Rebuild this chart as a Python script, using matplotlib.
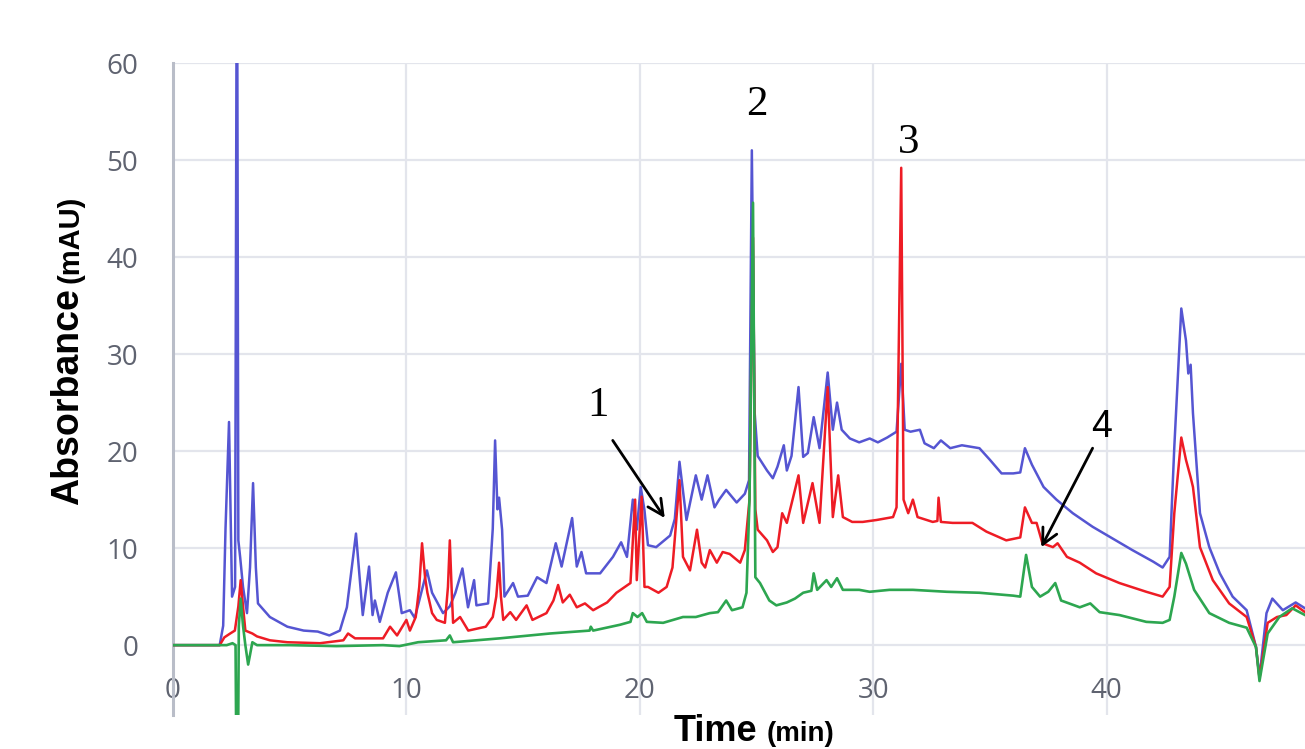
import matplotlib
matplotlib.use("Agg")
import matplotlib.pyplot as plt

# retention time (min) / absorbance (mAU)
blue_t = [0, 1.0, 2.0, 2.15, 2.25, 2.4, 2.53, 2.66, 2.74, 2.8, 2.88, 3.0, 3.17, 3.3, 3.43, 3.55, 3.64,
          4.15, 4.9, 5.6, 6.2, 6.7, 7.15, 7.45, 7.84, 8.13, 8.4, 8.55, 8.65, 8.86, 9.2, 9.55, 9.8,
          10.15, 10.36, 10.88, 11.1, 11.57, 11.86, 12.1, 12.4, 12.64, 12.9, 13.0, 13.5, 13.7, 13.8,
          13.9, 13.97, 14.1, 14.2, 14.57, 14.78, 15.2, 15.6, 16.0, 16.4, 16.65, 17.1, 17.3, 17.5,
          17.7, 18.3, 18.85, 19.2, 19.45, 19.7, 19.87, 20.04, 20.2, 20.35, 20.7, 21.3, 21.5, 21.7,
          22.0, 22.4, 22.65, 22.9, 23.2, 23.4, 23.7, 24.15, 24.5, 24.68, 24.8, 24.92, 25.05, 25.45,
          25.7, 25.9, 26.17, 26.3, 26.5, 26.8, 27.0, 27.2, 27.45, 27.7, 28.05, 28.27, 28.45, 28.65,
          29.0, 29.4, 29.85, 30.2, 30.6, 31.0, 31.2, 31.35, 31.6, 32.0, 32.2, 32.6, 32.9, 33.3, 33.8,
          34.55, 35.0, 35.5, 36.0, 36.3, 36.5, 36.8, 37.3, 37.85, 38.55, 39.4, 40.25, 41.1, 42.0,
          42.4, 42.7, 42.9, 43.2, 43.4, 43.5, 43.6, 43.7, 44.0, 44.4, 44.85, 45.4, 46.0, 46.4, 46.55,
          46.85, 47.1, 47.55, 48.1, 48.5]
blue_v = [0, 0, 0, 2, 12, 23, 5, 6, 80, 10.8, 9, 6, 3.3, 8, 16.7, 8, 4.3,
          2.9, 1.9, 1.5, 1.4, 1.0, 1.5, 3.9, 11.5, 3.1, 8.1, 3.1, 4.6, 2.4, 5.4, 7.5, 3.3,
          3.6, 2.8, 7.7, 5.4, 3.3, 4.0, 5.4, 7.9, 3.9, 6.7, 4.1, 4.3, 12, 21.1,
          14, 15.2, 11.9, 5, 6.4, 5, 5.1, 7, 6.4, 10.5, 8.1, 13.1, 8.1, 9.6,
          7.4, 7.4, 9.1, 10.6, 9.1, 15, 11.9, 16.3, 13.9, 10.3, 10.1, 11.3, 13, 18.9,
          12.9, 17.5, 15, 17.5, 14.2, 15, 16, 14.7, 15.6, 17, 51, 24, 19.5, 18,
          17.2, 18.4, 20.6, 18, 19.5, 26.6, 19.4, 19.8, 23.5, 20.3, 28.1, 22.2, 25, 22.2,
          21.3, 20.9, 21.3, 20.9, 21.4, 22, 29, 22.2, 22, 22.2, 20.8, 20.3, 21.1, 20.3, 20.6,
          20.3, 19.1, 17.7, 17.7, 17.8, 20.3, 18.6, 16.3, 15, 13.6, 12.2, 11, 9.8, 8.6,
          8, 9.1, 20.4, 34.7, 31.4, 28, 28.9, 23.9, 13.6, 10.1, 7.4, 5, 3.6, -0.2, -3.3,
          3.3, 4.8, 3.6, 4.4, 3.8]

red_t = [0, 1.0, 2.0, 2.2, 2.45, 2.65, 2.8, 2.9, 3.0, 3.1, 3.4, 3.6, 4.15, 4.9, 6.3, 7.3, 7.5, 7.8,
         9.0, 9.3, 9.6, 10.0, 10.15, 10.4, 10.55, 10.67, 10.8, 10.9, 11.1, 11.3, 11.65, 11.78, 11.86,
         11.95, 12.0, 12.3, 12.65, 13.4, 13.7, 13.85, 13.97, 14.05, 14.15, 14.45, 14.7, 15.15, 15.4,
         16.0, 16.3, 16.5, 16.7, 17.0, 17.3, 17.65, 18.0, 18.6, 19.0, 19.6, 19.8, 19.87, 20.08, 20.2,
         20.35, 20.8, 21.15, 21.4, 21.7, 21.85, 22.15, 22.45, 22.65, 22.8, 23.0, 23.3, 23.55, 23.85,
         24.3, 24.5, 24.7, 24.85, 24.95, 25.05, 25.45, 25.7, 25.9, 26.1, 26.3, 26.8, 27.0, 27.4, 27.7,
         28.05, 28.27, 28.5, 28.7, 29.1, 29.55, 30.15, 30.85, 31.0, 31.2, 31.3, 31.5, 31.7, 31.9,
         32.55, 32.75, 32.8, 32.9, 33.4, 34.25, 34.85, 35.7, 36.3, 36.5, 36.8, 37.0, 37.25, 37.7,
         37.9, 38.3, 38.85, 39.55, 40.55, 41.7, 42.4, 42.7, 42.9, 43.2, 43.4, 43.6, 43.7, 44.0, 44.55,
         45.25, 46.0, 46.4, 46.55, 46.9, 47.3, 47.7, 48.1, 48.5]
red_v = [0, 0, 0, 0.8, 1.2, 1.5, 4, 6.7, 4, 1.5, 1.2, 0.9, 0.5, 0.3, 0.2, 0.5, 1.2, 0.7,
         0.7, 1.9, 1.0, 2.6, 1.5, 2.9, 6, 10.5, 7, 5.4, 3.3, 2.6, 2.3, 6, 10.8,
         5, 2.3, 2.9, 1.5, 1.9, 2.9, 5, 8.5, 5, 2.6, 3.4, 2.6, 4.1, 2.6,
         3.3, 4.6, 6.2, 4.4, 5.2, 3.9, 4.3, 3.6, 4.4, 5.4, 6.4, 15, 6.7, 15.3, 6,
         6, 5.4, 6, 8, 17, 9.1, 7.7, 11.9, 8.5, 8, 9.8, 8.5, 9.6, 9.4,
         8.5, 9.8, 15, 42, 14, 11.9, 10.8, 9.6, 10.1, 13.6, 12.6, 17.5, 12.6, 16.7, 12.6,
         26.6, 13.2, 17.5, 13.2, 12.7, 12.7, 12.9, 13.2, 14.2, 49.2, 15, 13.6, 15, 13.2,
         12.7, 12.8, 15.2, 12.7, 12.6, 12.6, 11.7, 10.8, 11.1, 14.2, 12.6, 12.6, 10.5, 10.1,
         10.5, 9.1, 8.5, 7.4, 6.4, 5.5, 5, 6, 13.6, 21.4, 19.1, 17.3, 16.3, 10.1, 6.7,
         4.3, 2.9, -0.2, -3.4, 2.3, 2.9, 3.1, 4.1, 3.4]

green_t = [0, 1.0, 2.0, 2.3, 2.55, 2.68, 2.72, 2.78, 2.82, 2.9, 3.0, 3.1, 3.22, 3.3, 3.4, 3.6, 5.0,
           7.0, 9.0, 9.7, 10.5, 11.7, 11.86, 12.0, 14.0, 16.15, 17.85, 17.9, 18.0, 19.15, 19.6, 19.7,
           19.9, 20.1, 20.3, 21.0, 21.85, 22.4, 23.0, 23.35, 23.7, 23.95, 24.4, 24.57, 24.7, 24.85,
           24.95, 25.15, 25.55, 25.85, 26.3, 26.65, 27.0, 27.35, 27.45, 27.6, 28.0, 28.2, 28.45, 28.7,
           29.4, 29.85, 30.7, 31.7, 33.15, 34.55, 36.0, 36.3, 36.55, 36.8, 37.15, 37.5, 37.8, 38.05,
           38.85, 39.3, 39.7, 40.55, 41.7, 42.4, 42.7, 42.9, 43.2, 43.4, 43.75, 44.4, 45.25, 46.0,
           46.4, 46.55, 46.9, 47.4, 47.95, 48.5]
green_v = [0, 0, 0, 0, 0.2, 0, -14, -14, 2, 4.8, 2, 0, -2, -1, 0.3, 0, 0,
           -0.1, 0, -0.1, 0.3, 0.5, 1.0, 0.3, 0.7, 1.2, 1.5, 1.9, 1.5, 2.1, 2.4, 3.3,
           2.9, 3.3, 2.4, 2.3, 2.9, 2.9, 3.3, 3.4, 4.6, 3.6, 3.9, 5.4, 15, 45.6,
           7, 6.4, 4.6, 4.1, 4.4, 4.8, 5.4, 5.6, 7.4, 5.7, 6.7, 6, 6.9, 5.7,
           5.7, 5.5, 5.7, 5.7, 5.5, 5.4, 5.1, 5, 9.3, 6, 5, 5.5, 6.4, 4.6,
           3.9, 4.3, 3.4, 3.1, 2.4, 2.3, 2.6, 5, 9.5, 8.4, 5.7, 3.3, 2.3, 1.8,
           -0.2, -3.7, 1.2, 2.9, 3.8, 3.1]

x_ticks = [0, 10, 20, 30, 40]
y_ticks = [0, 10, 20, 30, 40, 50, 60]

# peak labels: text position, arrow start, arrow tip (None = no arrow)
peak_labels = ["1", "2", "3", "4"]
peak_text = [(18.2, 24.7), (25.0, 55.7), (31.5, 51.8), (39.8, 22.5)]
peak_arrows = [((18.84, 21.1), (21.07, 13.1)), None, None, ((39.4, 20.3), (37.2, 10.1))]

W, H = 1305, 749
fig = plt.figure(figsize=(W / 100, H / 100), dpi=100)
ax = fig.add_axes([173 / W, 1 - 715 / H, (W - 173) / W, (715 - 63) / H])

grid_col = "#e3e5ec"
ax.plot(blue_t, blue_v, color="#5555d2", lw=1.8, zorder=3)
ax.plot(red_t, red_v, color="#ee1c25", lw=1.8, zorder=4)
ax.plot(green_t, green_v, color="#2da650", lw=1.9, zorder=5)

ax.set_xlim(0, 48.5)
ax.set_ylim(-7.2, 60)
ax.set_xticks(x_ticks)
ax.set_yticks(y_ticks)
ax.grid(True, color=grid_col, lw=1.6, zorder=0)
for s in ["top", "right", "bottom"]:
    ax.spines[s].set_visible(False)
ax.spines["left"].set_color("#b9bdc8")
ax.spines["left"].set_linewidth(2.2)

tick_font = dict(family="Open Sans", size=20, color="#5f6370")
ax.tick_params(axis="both", length=0)
ax.tick_params(axis="y", pad=25)
ax.tick_params(axis="x", pad=-27)
for lab in ax.get_xticklabels() + ax.get_yticklabels():
    lab.set_fontfamily(tick_font["family"])
    lab.set_fontsize(tick_font["size"])
    lab.set_color(tick_font["color"])

# axis titles, big word + smaller unit
fig.text(757 / W, 1 - 741 / H, "Time", family="Liberation Sans", weight="bold",
         size=26, ha="right", va="baseline")
fig.text(767 / W, 1 - 741 / H, "(min)", family="Liberation Sans", weight="bold",
         size=20, ha="left", va="baseline")
fig.text(78 / W, 1 - 505 / H, "Absorbance", family="Liberation Sans", weight="bold",
         size=27, rotation=90, rotation_mode="anchor", ha="left", va="baseline")
fig.text(79 / W, 1 - 283 / H, "(mAU)", family="Liberation Sans", weight="bold",
         size=21, rotation=90, rotation_mode="anchor", ha="left", va="baseline")

for lab, pos, arr in zip(peak_labels, peak_text, peak_arrows):
    fam = "Liberation Sans" if lab == "4" else "Liberation Serif"
    ax.text(pos[0], pos[1], lab, family=fam, size=27 if lab == "4" else 31,
            ha="center", va="center", color="black", zorder=6)
    if arr is not None:
        ax.annotate("", xy=arr[1], xytext=arr[0],
                    arrowprops=dict(arrowstyle="->", color="black", lw=2,
                                    mutation_scale=28, shrinkA=0, shrinkB=0),
                    zorder=6)

fig.savefig("out.png", dpi=100)
